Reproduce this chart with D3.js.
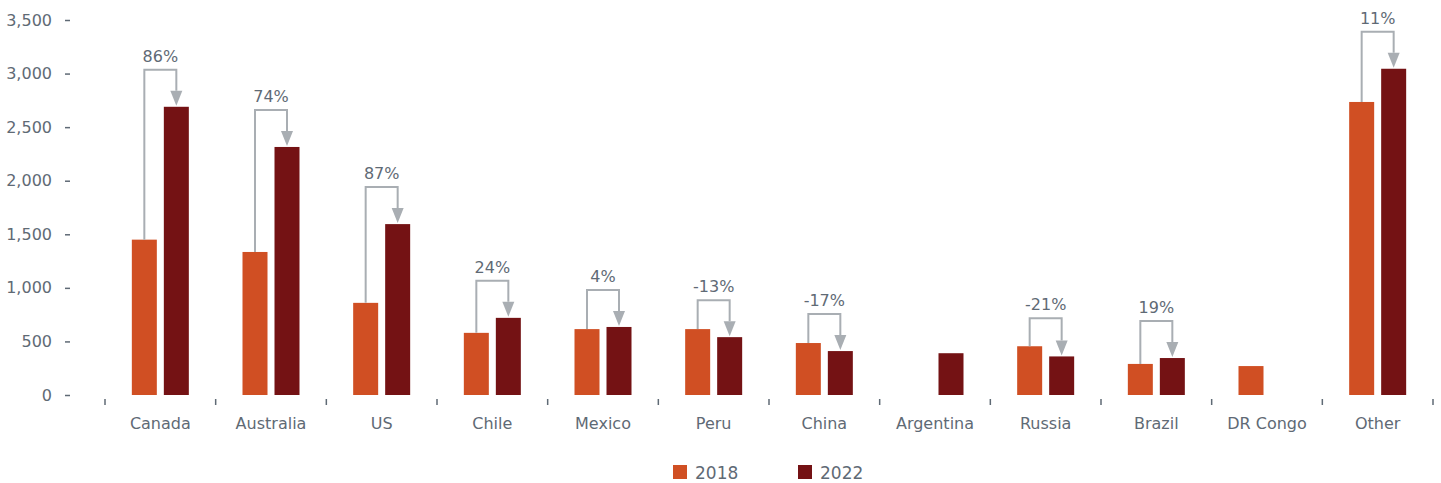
<!DOCTYPE html>
<html>
<head>
<meta charset="utf-8">
<script src="https://cdn.jsdelivr.net/npm/d3@7"></script>
<style>
  body { margin: 0; background: #fff; }
  svg { font-family: "DejaVu Sans", sans-serif; }
  text { fill: #5f6a75; }
</style>
</head>
<body>
<svg width="1441" height="483"></svg>
<script>
// data
const categories = ['Canada', 'Australia', 'US', 'Chile', 'Mexico', 'Peru', 'China', 'Argentina', 'Russia', 'Brazil', 'DR Congo', 'Other'];
const series = ['2018', '2022'];
const values2018 = [1450, 1335, 860, 580, 615, 615, 485, null, 455, 290, 270, 2735];
const values2022 = [2690, 2315, 1595, 720, 635, 540, 410, 390, 360, 345, null, 3045];
const changeLabels = ['86%', '74%', '87%', '24%', '4%', '-13%', '-17%', null, '-21%', '19%', null, '11%'];
const yTicks = [0, 500, 1000, 1500, 2000, 2500, 3000, 3500];

const colors = { '2018': '#d04f23', '2022': '#741214' };
const grey = '#a9aeb3';

const svg = d3.select('svg');

const x0 = d3.scaleBand().domain(categories).range([105, 1433]).padding(0);
const x1 = d3.scaleBand().domain(series).range([-28.5, 28.5]).paddingInner(7 / 32);
const y = d3.scaleLinear().domain([0, 3500]).range([395, 20]);

// y axis (ticks + labels only)
const yAxis = svg.append('g')
  .attr('transform', 'translate(70,0)')
  .call(d3.axisLeft(y).tickValues(yTicks).tickSize(5).tickPadding(13).tickFormat(d3.format(',')));
yAxis.select('.domain').remove();
yAxis.selectAll('line').attr('stroke', '#5f6a75').attr('stroke-width', 1.5);
yAxis.selectAll('text').attr('font-size', 16).attr('font-family', '"DejaVu Sans", sans-serif').style('fill', '#5f6a75');

// x axis: short ticks at band edges
const edges = categories.map(c => x0(c)).concat([x0.range()[1]]);
svg.append('g')
  .selectAll('line')
  .data(edges)
  .join('line')
  .attr('x1', d => d).attr('x2', d => d)
  .attr('y1', 399).attr('y2', 405)
  .attr('stroke', '#5f6a75').attr('stroke-width', 1.5);

svg.append('g')
  .selectAll('text')
  .data(categories)
  .join('text')
  .attr('x', d => x0(d) + x0.bandwidth() / 2)
  .attr('y', 429)
  .attr('text-anchor', 'middle')
  .attr('font-size', 16)
  .text(d => d);

// bars
const rows = categories.map((c, i) => ({ cat: c, v: { '2018': values2018[i], '2022': values2022[i] }, label: changeLabels[i] }));

const groups = svg.append('g')
  .selectAll('g')
  .data(rows)
  .join('g')
  .attr('transform', d => `translate(${x0(d.cat) + x0.bandwidth() / 2},0)`);

groups.selectAll('rect')
  .data(d => series.filter(s => d.v[s] != null).map(s => ({ s, v: d.v[s] })))
  .join('rect')
  .attr('x', d => x1(d.s))
  .attr('width', x1.bandwidth())
  .attr('y', d => y(d.v))
  .attr('height', d => y(0) - y(d.v))
  .attr('fill', d => colors[d.s]);

// change connectors
const withChange = groups.filter(d => d.label != null);

withChange.each(function (d) {
  const g = d3.select(this);
  const xa = x1('2018') + x1.bandwidth() / 2;
  const xb = x1('2022') + x1.bandwidth() / 2;
  const ya = y(d.v['2018']);
  const yb = y(d.v['2022']);
  const top = Math.min(ya - 28, yb - 37);
  const headH = 16, headW = 12;
  g.append('path')
    .attr('d', `M${xa},${ya} V${top} H${xb} V${yb - headH}`)
    .attr('fill', 'none')
    .attr('stroke', grey)
    .attr('stroke-width', 2);
  g.append('path')
    .attr('d', `M${xb - headW / 2},${yb - headH} L${xb + headW / 2},${yb - headH} L${xb},${yb - 1} Z`)
    .attr('fill', grey);
  g.append('text')
    .attr('x', 0)
    .attr('y', top - 8)
    .attr('text-anchor', 'middle')
    .attr('font-size', 16)
    .text(d.label);
});

// legend
const legend = svg.append('g')
  .selectAll('g')
  .data(series)
  .join('g')
  .attr('transform', (d, i) => `translate(${673 + i * 125},465)`);
legend.append('rect').attr('width', 14).attr('height', 14).attr('fill', d => colors[d]);
legend.append('text').attr('x', 22).attr('y', 14).attr('font-size', 17).text(d => d);
</script>
</body>
</html>
